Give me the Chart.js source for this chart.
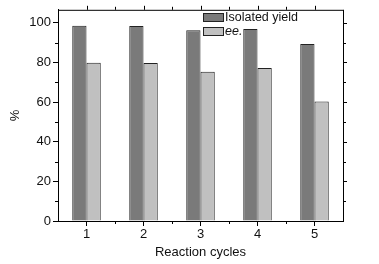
<!DOCTYPE html>
<html>
<head>
<meta charset="utf-8">
<script src="https://cdn.jsdelivr.net/npm/chart.js@4.4.1/dist/chart.umd.min.js"></script>
<style>
  html, body { margin: 0; padding: 0; background: #fff; }
  #wrap { width: 379px; height: 264px; position: relative; }
</style>
</head>
<body>
<div id="wrap"><canvas id="cycles-chart"></canvas></div>
<script>
const CYCLES = ['1', '2', '3', '4', '5'];
const YIELD = [98.5, 98.3, 96.2, 96.8, 89.3];
const EE = [79.8, 79.7, 75.3, 77.2, 60.2];
const Y_TICKS = [0, 20, 40, 60, 80, 100];

const FONT = '"Liberation Sans", Arial, sans-serif';

// minor ticks, top/right frame and the in-plot legend
const frameAndLegend = {
  id: 'frameAndLegend',
  afterDraw(chart) {
    const { ctx, chartArea: a, scales: { x, y } } = chart;
    ctx.save();
    ctx.strokeStyle = '#000';
    ctx.lineWidth = 1;
    ctx.beginPath();
    // top and right frame
    ctx.moveTo(a.left, a.top + 0.5); ctx.lineTo(a.right + 0.5, a.top + 0.5);
    ctx.moveTo(a.right + 0.5, a.top); ctx.lineTo(a.right + 0.5, a.bottom);
    // x minor ticks (category boundaries), top ticks
    const half = (x.getPixelForValue(1) - x.getPixelForValue(0)) / 2;
    for (let i = 0; i < CYCLES.length; i++) {
      const c = Math.round(x.getPixelForValue(i)) + 0.5;
      const b = Math.round(x.getPixelForValue(i) + half) + 0.5;
      if (i < CYCLES.length - 1) {
        ctx.moveTo(b, a.bottom); ctx.lineTo(b, a.bottom + 3);
        ctx.moveTo(b, a.top); ctx.lineTo(b, a.top - 3);
      }
      ctx.moveTo(c, a.top); ctx.lineTo(c, a.top - 4);
    }
    // y minor ticks on left, ticks on right
    for (let v = 10; v <= 100; v += 10) {
      const p = Math.round(y.getPixelForValue(v)) + 0.5;
      if (v % 20) { ctx.moveTo(a.left, p); ctx.lineTo(a.left - 3, p); }
      ctx.moveTo(a.right, p); ctx.lineTo(a.right + (v % 20 ? 3 : 4), p);
    }
    ctx.stroke();

    // legend
    const lx = 203, ly = 13;
    chart.data.datasets.forEach((ds, i) => {
      const top = ly + i * 14;
      ctx.fillStyle = ds.backgroundColor;
      ctx.fillRect(lx, top, 20, 8);
      ctx.strokeStyle = '#222';
      ctx.strokeRect(lx + 0.5, top + 0.5, 20, 8);
      ctx.fillStyle = '#111';
      ctx.font = (i === 1 ? 'italic ' : '') + '12.5px ' + FONT;
      ctx.textBaseline = 'middle';
      ctx.fillText(ds.label, lx + 22, top + 4.5);
    });
    ctx.restore();
  },
};

new Chart(document.getElementById('cycles-chart'), {
  type: 'bar',
  data: {
    labels: CYCLES,
    datasets: [
      {
        label: 'Isolated yield',
        data: YIELD,
        backgroundColor: '#7a7a7a',
        borderColor: '#222222',
        borderWidth: 1,
        borderSkipped: 'bottom',
      },
      {
        label: 'ee.',
        data: EE,
        backgroundColor: '#c0c0c0',
        borderColor: '#222222',
        borderWidth: 1,
        borderSkipped: 'bottom',
      },
    ],
  },
  options: {
    responsive: true,
    maintainAspectRatio: false,
    animation: false,
    layout: { padding: { left: 0, right: 36, top: 8, bottom: 0 } },
    datasets: { bar: { categoryPercentage: 0.5, barPercentage: 1 } },
    plugins: { legend: { display: false }, tooltip: { enabled: false } },
    scales: {
      x: {
        grid: { offset: false, drawOnChartArea: false, tickLength: 5, color: '#000' },
        border: { color: '#000' },
        ticks: { color: '#111', font: { family: FONT, size: 13 }, padding: 1 },
        title: { display: true, text: 'Reaction cycles', color: '#111', font: { family: FONT, size: 13 }, padding: { top: 2 } },
        afterFit: (s) => { s.height = 43; },
      },
      y: {
        min: 0,
        max: 106.5,
        afterBuildTicks: (s) => { s.ticks = Y_TICKS.map((v) => ({ value: v })); },
        grid: { drawOnChartArea: false, tickLength: 5, color: '#000' },
        border: { color: '#000' },
        ticks: { color: '#111', font: { family: FONT, size: 13 }, padding: 2 },
        title: { display: true, text: '%', color: '#111', font: { family: FONT, size: 13 }, padding: { top: 8, bottom: 0 } },
        afterFit: (s) => { s.width = 58; },
      },
    },
  },
  plugins: [frameAndLegend],
});
</script>
</body>
</html>
